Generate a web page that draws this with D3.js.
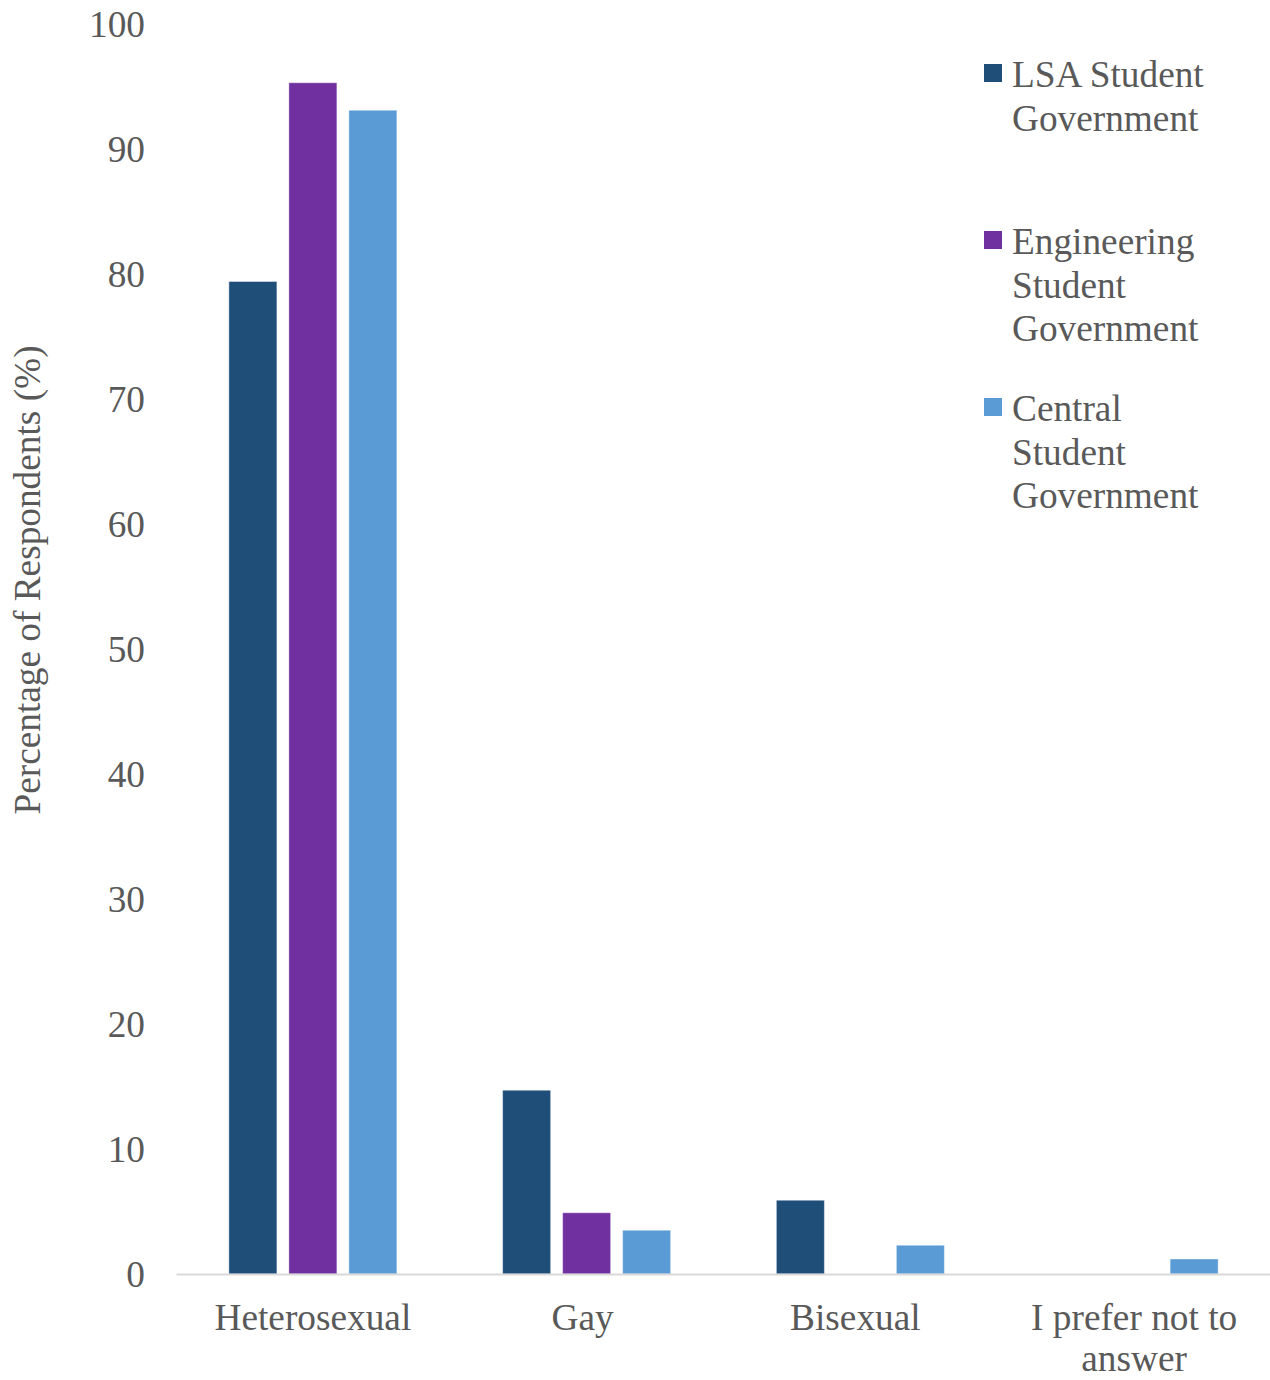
<!DOCTYPE html>
<html>
<head>
<meta charset="utf-8">
<script src="https://cdn.jsdelivr.net/npm/d3@7/dist/d3.min.js"></script>
<style>
  html, body { margin: 0; padding: 0; background: #fff; }
  text { font-family: "Liberation Serif", "Times New Roman", serif; fill: #595959; }
</style>
</head>
<body>
<svg id="chart" width="1270" height="1380"></svg>
<script>
const categories = ["Heterosexual", "Gay", "Bisexual", "I prefer not to answer"];
const categoryLines = [["Heterosexual"], ["Gay"], ["Bisexual"], ["I prefer not to", "answer"]];
const seriesNames = ["LSA Student Government", "Engineering Student Government", "Central Student Government"];
const legendLines = [["LSA Student", "Government"], ["Engineering", "Student", "Government"], ["Central", "Student", "Government"]];
const seriesColors = ["#1F4E79", "#7030A0", "#5B9BD5"];
const lsaValues = [79.4, 14.7, 5.9, 0];
const engValues = [95.3, 4.9, 0, 0];
const centralValues = [93.1, 3.5, 2.3, 1.2];
const yTicks = [0, 10, 20, 30, 40, 50, 60, 70, 80, 90, 100];

const seriesValues = [lsaValues, engValues, centralValues];
const FS = 37.3;

const svg = d3.select("#chart");
const plot = { left: 176, right: 1271, top: 24, bottom: 1274 };

const x0 = d3.scaleBand().domain(categories).range([plot.left, plot.right]).paddingInner(0).paddingOuter(0);
const groupW = 168;
const x1 = d3.scaleBand().domain(seriesNames).range([0, groupW]).paddingInner(0.2).paddingOuter(0);
const y = d3.scaleLinear().domain([0, 100]).range([plot.bottom, plot.top]);

// Y axis labels
const yAxis = d3.axisLeft(y).tickValues(yTicks).tickSize(0).tickPadding(0);
const yg = svg.append("g").attr("transform", `translate(145,0)`).call(yAxis);
yg.select(".domain").remove();
yg.selectAll("text").attr("font-size", FS).style("font-family", '"Liberation Serif", serif').attr("fill", "#595959").attr("dy", "0.33em");

// Bars
seriesNames.forEach((s, si) => {
  svg.append("g").selectAll("rect")
    .data(categories.map((c, ci) => ({ c, v: seriesValues[si][ci] })))
    .join("rect")
    .filter(d => d.v > 0)
    .attr("x", d => x0(d.c) + (x0.bandwidth() - groupW) / 2 + x1(s))
    .attr("y", d => y(d.v))
    .attr("width", x1.bandwidth())
    .attr("height", d => y(0) - y(d.v))
    .attr("fill", seriesColors[si])
    .attr("stroke", "#ffffff")
    .attr("stroke-opacity", 0.4)
    .attr("stroke-width", 1);
});

// X axis line
const xAxis = d3.axisBottom(x0).tickSize(0).tickFormat("");
const xg = svg.append("g").attr("transform", `translate(0,${plot.bottom})`).call(xAxis);
xg.select(".domain").attr("stroke", "#d9d9d9").attr("stroke-width", 2);

// Category labels
const labelShift = [0, -4, -5, 0];
categories.forEach((c, ci) => {
  const cx = x0(c) + x0.bandwidth() / 2 + labelShift[ci];
  const t = svg.append("text")
    .attr("x", cx)
    .attr("y", 1330)
    .attr("text-anchor", "middle")
    .attr("font-size", FS);
  categoryLines[ci].forEach((line, li) => {
    t.append("tspan").attr("x", cx).attr("dy", li === 0 ? 0 : 41).text(line);
  });
});

// Y axis title
svg.append("text")
  .attr("transform", `translate(40,580) rotate(-90)`)
  .attr("text-anchor", "middle")
  .attr("font-size", FS)
  .text("Percentage of Respondents (%)");

// Legend
const legendTop = [75, 242, 409];
seriesNames.forEach((s, si) => {
  const g = svg.append("g");
  g.append("rect")
    .attr("x", 984).attr("y", legendTop[si] - 11)
    .attr("width", 18).attr("height", 18)
    .attr("fill", seriesColors[si]);
  const t = g.append("text").attr("x", 1012).attr("y", legendTop[si] + 12).attr("font-size", FS);
  legendLines[si].forEach((line, li) => {
    t.append("tspan").attr("x", 1012).attr("dy", li === 0 ? 0 : 43.5).text(line);
  });
});
</script>
</body>
</html>
